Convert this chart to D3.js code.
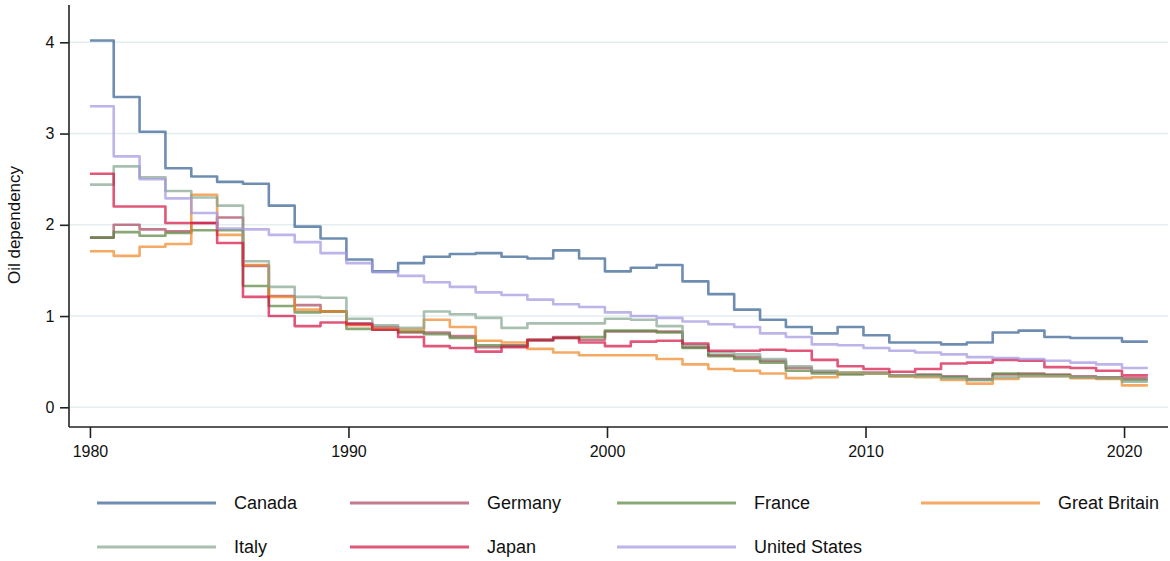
<!DOCTYPE html>
<html>
<head>
<meta charset="utf-8">
<script src="https://cdn.jsdelivr.net/npm/d3@7"></script>
<style>
  html, body { margin: 0; padding: 0; background: #ffffff; }
  svg { display: block; font-family: "Liberation Sans", Arial, Helvetica, sans-serif; }
</style>
</head>
<body>
<svg id="chart" width="1170" height="561"></svg>
<script>
// ---------------- data ----------------
const years = d3.range(1980, 2021);
const yTicks = [0, 1, 2, 3, 4];
const xTicks = [1980, 1990, 2000, 2010, 2020];
const seriesNames = ["Canada", "Germany", "France", "Great Britain", "Italy", "Japan", "United States"];

const canada = [4.02, 3.40, 3.02, 2.62, 2.53, 2.47, 2.45, 2.21, 1.98, 1.85,
                1.62, 1.49, 1.58, 1.65, 1.68, 1.69, 1.65, 1.63, 1.72, 1.63,
                1.49, 1.53, 1.56, 1.38, 1.24, 1.07, 0.96, 0.88, 0.81, 0.88,
                0.79, 0.71, 0.71, 0.69, 0.71, 0.82, 0.84, 0.77, 0.76, 0.76, 0.72];
const germany = [1.86, 2.00, 1.95, 1.93, 2.02, 2.08, 1.55, 1.22, 1.12, 1.05,
                 0.92, 0.88, 0.82, 0.82, 0.78, 0.66, 0.68, 0.73, 0.77, 0.74,
                 0.83, 0.83, 0.83, 0.66, 0.57, 0.55, 0.51, 0.43, 0.39, 0.37,
                 0.38, 0.35, 0.36, 0.34, 0.31, 0.36, 0.37, 0.36, 0.34, 0.33, 0.32];
const france = [1.86, 1.92, 1.88, 1.91, 1.94, 1.94, 1.33, 1.11, 1.04, 1.05,
                0.86, 0.85, 0.83, 0.80, 0.76, 0.68, 0.67, 0.74, 0.76, 0.77,
                0.84, 0.84, 0.82, 0.65, 0.56, 0.53, 0.49, 0.40, 0.37, 0.36,
                0.37, 0.34, 0.35, 0.33, 0.30, 0.37, 0.36, 0.35, 0.33, 0.32, 0.30];
const greatBritain = [1.71, 1.66, 1.76, 1.79, 2.33, 1.89, 1.56, 1.21, 1.07, 1.05,
                      0.90, 0.86, 0.85, 0.96, 0.88, 0.73, 0.71, 0.64, 0.60, 0.57,
                      0.57, 0.57, 0.53, 0.47, 0.42, 0.40, 0.37, 0.32, 0.33, 0.38,
                      0.37, 0.34, 0.33, 0.30, 0.26, 0.31, 0.34, 0.34, 0.32, 0.31, 0.24];
const italy = [2.44, 2.64, 2.52, 2.37, 2.30, 2.21, 1.60, 1.32, 1.21, 1.20,
               0.97, 0.90, 0.87, 1.05, 1.02, 0.98, 0.87, 0.92, 0.92, 0.92,
               0.97, 0.96, 0.89, 0.68, 0.60, 0.58, 0.53, 0.45, 0.40, 0.38,
               0.37, 0.35, 0.34, 0.32, 0.30, 0.33, 0.34, 0.34, 0.33, 0.32, 0.28];
const japan = [2.56, 2.20, 2.20, 2.02, 2.02, 1.80, 1.21, 1.00, 0.89, 0.93,
               0.91, 0.85, 0.77, 0.67, 0.65, 0.61, 0.66, 0.74, 0.76, 0.71,
               0.67, 0.72, 0.73, 0.70, 0.62, 0.62, 0.63, 0.62, 0.52, 0.45,
               0.42, 0.39, 0.42, 0.48, 0.49, 0.52, 0.51, 0.44, 0.43, 0.40, 0.35];
const unitedStates = [3.30, 2.75, 2.50, 2.29, 2.13, 1.96, 1.95, 1.89, 1.81, 1.69,
                      1.58, 1.48, 1.44, 1.37, 1.32, 1.26, 1.23, 1.18, 1.13, 1.10,
                      1.04, 1.00, 0.98, 0.94, 0.91, 0.88, 0.81, 0.77, 0.69, 0.68,
                      0.65, 0.62, 0.60, 0.58, 0.55, 0.54, 0.53, 0.51, 0.49, 0.47, 0.43];

const seriesValues = [canada, germany, france, greatBritain, italy, japan, unitedStates];
const seriesColors = ["#305c8e", "#a8455b", "#58833b", "#ef8624", "#84a58e", "#d30f41", "#a195e1"];

// ---------------- layout ----------------
const svg = d3.select("#chart");
const plot = { left: 69, right: 1168, top: 5, bottom: 427 };
const x = d3.scaleLinear().domain([1979.19, 2021.7]).range([plot.left, plot.right]);
const y = d3.scaleLinear().domain([0, 4]).range([407.3, 42.3]);
const stepShift = 0.92; // values change shortly before the next year tick

// gridlines
svg.append("g")
  .selectAll("line")
  .data(yTicks)
  .join("line")
  .attr("x1", plot.left + 1)
  .attr("x2", plot.right)
  .attr("y1", d => y(d))
  .attr("y2", d => y(d))
  .attr("stroke", "#e4eeef")
  .attr("stroke-width", 1.6);

// series
const line = d3.line()
  .x(d => x(d.x))
  .y(d => y(d.v))
  .curve(d3.curveStepAfter);

seriesValues.forEach((vals, si) => {
  const pts = [{ x: years[0], v: vals[0] }];
  for (let i = 1; i < vals.length; i++) pts.push({ x: years[i - 1] + stepShift, v: vals[i] });
  pts.push({ x: years[years.length - 1] + stepShift, v: vals[vals.length - 1] });
  svg.append("path")
    .datum(pts)
    .attr("d", line)
    .attr("fill", "none")
    .attr("stroke", seriesColors[si])
    .attr("stroke-opacity", 0.7)
    .attr("stroke-width", 2.6)
    .attr("stroke-linejoin", "round");
});

// axes
const yAxis = d3.axisLeft(y).tickValues(yTicks).tickSize(9).tickPadding(18).tickFormat(d3.format("d"));
const gy = svg.append("g").attr("transform", `translate(${plot.left},0)`).call(yAxis);
gy.select(".domain").attr("d", `M0,${plot.top}V${plot.bottom}`).attr("stroke", "#222").attr("stroke-width", 1.6);
gy.selectAll(".tick line").attr("stroke", "#222").attr("stroke-width", 1.6);
gy.selectAll(".tick text").attr("font-size", 16).attr("fill", "#111").attr("font-family", "Liberation Sans, Arial, sans-serif").attr("text-anchor", "middle").attr("dx", 8);

const xAxis = d3.axisBottom(x).tickValues(xTicks).tickSize(11).tickPadding(8).tickFormat(d3.format("d"));
const gx = svg.append("g").attr("transform", `translate(0,${plot.bottom})`).call(xAxis);
gx.select(".domain").attr("d", `M${plot.left},0H${plot.right}`).attr("stroke", "#222").attr("stroke-width", 1.6);
gx.selectAll(".tick line").attr("stroke", "#222").attr("stroke-width", 1.6);
gx.selectAll(".tick text").attr("font-size", 16).attr("fill", "#111").attr("font-family", "Liberation Sans, Arial, sans-serif");

// y title
svg.append("text")
  .attr("transform", "translate(20,225) rotate(-90)")
  .attr("text-anchor", "middle")
  .attr("font-size", 17)
  .attr("fill", "#111")
  .text("Oil dependency");

// legend
const legendCols = [97, 350, 617, 921];
const legendRows = [503, 547];
const lg = svg.append("g");
seriesNames.forEach((name, i) => {
  const col = i % 4, row = Math.floor(i / 4);
  const lx = legendCols[col], ly = legendRows[row];
  lg.append("line")
    .attr("x1", lx).attr("x2", lx + 119)
    .attr("y1", ly).attr("y2", ly)
    .attr("stroke", seriesColors[i])
    .attr("stroke-opacity", 0.7)
    .attr("stroke-width", 2.8);
  lg.append("text")
    .attr("x", lx + 137)
    .attr("y", ly)
    .attr("dy", "0.35em")
    .attr("font-size", 18)
    .attr("fill", "#111")
    .text(name);
});
</script>
</body>
</html>
